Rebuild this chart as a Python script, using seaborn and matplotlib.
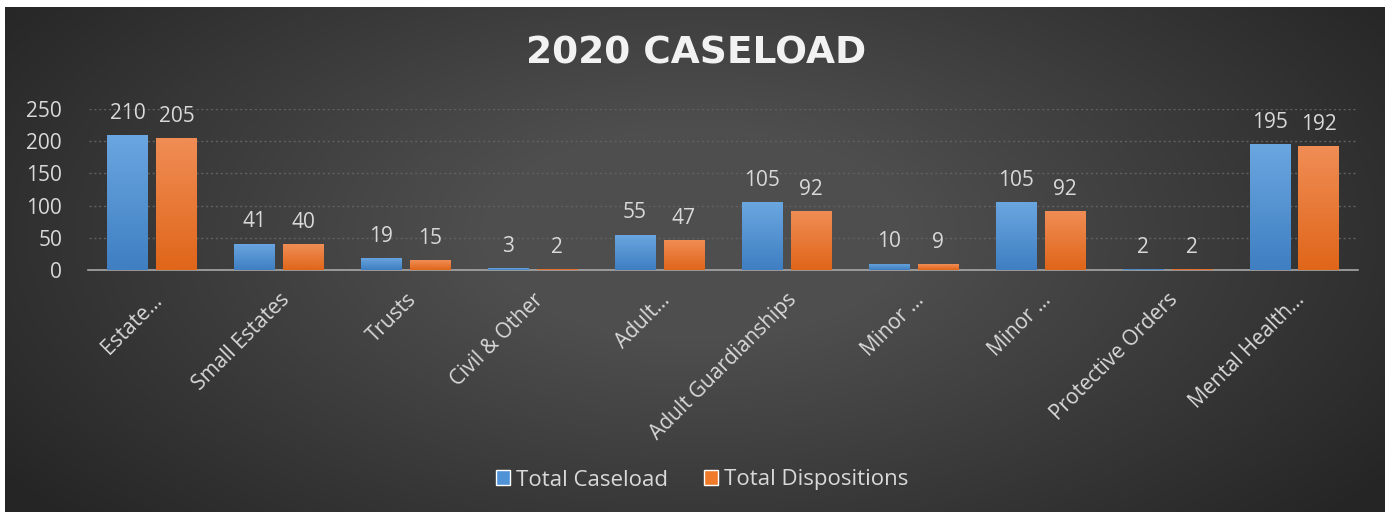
import numpy as np
import pandas as pd
import matplotlib
matplotlib.use("Agg")
import matplotlib.pyplot as plt
import seaborn as sns
from matplotlib.colors import LinearSegmentedColormap
from matplotlib.patches import Patch

categories = ["Estate…", "Small Estates", "Trusts", "Civil & Other", "Adult…",
              "Adult Guardianships", "Minor …", "Minor …", "Protective Orders", "Mental Health…"]
cat_keys = [f"c{i}" for i in range(len(categories))]
total_caseload = [210, 41, 19, 3, 55, 105, 10, 105, 2, 195]
total_dispositions = [205, 40, 15, 2, 47, 92, 9, 92, 2, 192]
series_names = ["Total Caseload", "Total Dispositions"]
yticks = [0, 50, 100, 150, 200, 250]

blue = "#4f92d6"
orange = "#ee7a2a"
text_col = "#d9d9d9"

df = pd.DataFrame({
    "cat": cat_keys * 2,
    "value": total_caseload + total_dispositions,
    "series": [series_names[0]] * len(cat_keys) + [series_names[1]] * len(cat_keys),
})

sns.set_theme(style="dark")
plt.rcParams["font.family"] = ["Open Sans", "DejaVu Sans"]

W, H = 1390, 515
fig = plt.figure(figsize=(W / 100, H / 100), dpi=100, facecolor="white")

# background panel with radial gradient
bg = fig.add_axes([5 / W, 3 / H, 1380 / W, 505 / H], zorder=0)
yy, xx = np.mgrid[0:1:300j, 0:1:600j]
r = np.sqrt(((xx - 0.5) / 0.62) ** 2 + ((yy - 0.45) / 0.85) ** 2)
g = np.clip(1 - r, 0, 1)
bgcmap = LinearSegmentedColormap.from_list("bg", ["#252525", "#4e4e4e"])
bg.imshow(g, cmap=bgcmap, aspect="auto", extent=[0, 1, 0, 1], vmin=0, vmax=0.75)
bg.set_axis_off()

ax = fig.add_axes([88.5 / W, (H - 270) / H, 1269 / W, 161 / H], zorder=1)
ax.patch.set_alpha(0)

sns.barplot(data=df, x="cat", y="value", hue="series", order=cat_keys,
            hue_order=series_names, palette=[blue, orange], width=0.77, gap=0.18,
            ax=ax, legend=False, saturation=1, err_kws={"linewidth": 0})

# gradient fill on bars
grads = {
    0: LinearSegmentedColormap.from_list("b", ["#3f7fc2", "#6aa6e0"]),
    1: LinearSegmentedColormap.from_list("o", ["#e0661a", "#f08d55"]),
}
for si, cont in enumerate(ax.containers):
    for p in cont.patches:
        x0, w, h = p.get_x(), p.get_width(), p.get_height()
        p.set_edgecolor("none")
        p.set_zorder(3)
        if h <= 0:
            continue
        im = ax.imshow(np.linspace(0, 1, 50).reshape(-1, 1), cmap=grads[si],
                       extent=[x0, x0 + w, 0, h], origin="lower", aspect="auto", zorder=3)
        im.set_clip_path(p)
    ax.bar_label(cont, padding=8, color=text_col, fontsize=15)

ax.set_ylim(0, 250)
ax.set_xlim(-0.5, len(cat_keys) - 0.5)

ax.set_yticks(yticks)
ax.set_yticklabels([str(v) for v in yticks], color=text_col, fontsize=15)
ax.set_xticks(range(len(categories)))
ax.set_xticklabels(categories, rotation=45, ha="right", rotation_mode="anchor",
                   color=text_col, fontsize=15)
ax.tick_params(axis="both", length=0)
ax.tick_params(axis="x", pad=14)
ax.tick_params(axis="y", pad=19)
ax.set_xlabel("")
ax.set_ylabel("")
ax.grid(axis="y", color="#616161", linestyle=(0, (1.5, 2)), linewidth=1)
ax.grid(axis="x", visible=False)
ax.set_axisbelow(True)
for s in ["top", "right", "left"]:
    ax.spines[s].set_visible(False)
ax.spines["bottom"].set_visible(True)
ax.spines["bottom"].set_color("#a8a8a8")
ax.spines["bottom"].set_linewidth(1.2)
ax.spines["bottom"].set_zorder(2)

fig.text(696 / W, 1 - 54 / H, "2020 CASELOAD", color="#f2f2f2", fontsize=27,
         fontweight="bold", family="DejaVu Sans", ha="center", va="center", zorder=3)

handles = [Patch(facecolor=blue, label=series_names[0]), Patch(facecolor=orange, label=series_names[1])]
leg = fig.legend(handles=handles, loc="center", bbox_to_anchor=(702 / W, 1 - 480 / H),
                 ncol=2, frameon=False, fontsize=16, labelcolor=text_col,
                 handlelength=0.65, handleheight=0.65, handletextpad=0.25, columnspacing=1.6)

fig.savefig("out.png", dpi=100, facecolor="white")
